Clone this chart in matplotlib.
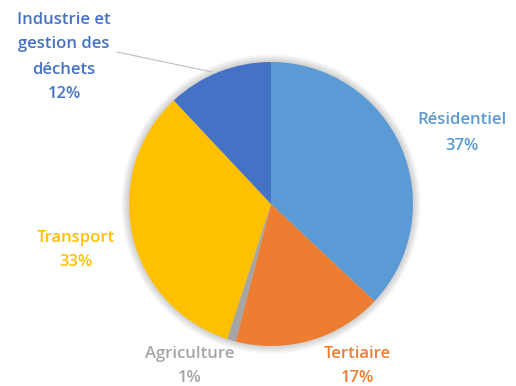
import matplotlib.pyplot as plt
from matplotlib.patches import Circle

# emissions share by sector
sectors = ["Résidentiel", "Tertiaire", "Agriculture", "Transport",
           "Industrie et\ngestion des\ndéchets"]
shares = [37, 17, 1, 33, 12]
colors = ["#5B9BD5", "#ED7D31", "#A5A5A5", "#FFC000", "#4472C4"]

W, H = 516, 386
fig = plt.figure(figsize=(W / 100, H / 100), dpi=100)
ax = fig.add_axes([0, 0, 1, 1])

cx, cy, r = 271, H - 204, 142

# soft shadow behind the pie
for k in range(6):
    ax.add_patch(Circle((cx, cy), r + 1.5 * k, color="#000000",
                        alpha=0.035, lw=0, zorder=0))

ax.pie(shares, colors=colors, startangle=90, counterclock=False,
       center=(cx, cy), radius=r, frame=True,
       wedgeprops=dict(linewidth=0))
ax.set_xlim(0, W)
ax.set_ylim(0, H)
ax.set_aspect("equal")
ax.axis("off")

# label placement (pixel positions, y from the top)
label_pos = [(462, 133), (357, 366), (190, 366), (76, 250), (64, 57)]
for name, val, col, (x, y) in zip(sectors, shares, colors, label_pos):
    ax.text(x, H - y, f"{name}\n{val}%", color=col, ha="center", va="center",
            fontsize=12, family="Open Sans", fontweight="semibold",
            linespacing=1.75)

# leader line for the top-left label
ax.plot([117, 212], [H - 52, H - 72], color="#BFBFBF", lw=0.8)

fig.savefig("out.png", dpi=100)
